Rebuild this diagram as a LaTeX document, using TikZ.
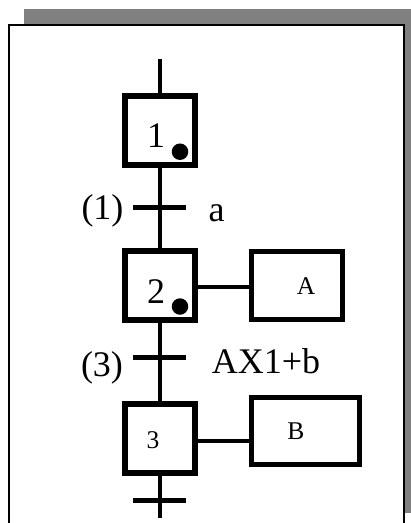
\documentclass[tikz,border=0pt]{standalone}
\usepackage{fontspec}
\setmainfont{Liberation Serif}
\definecolor{shadowgray}{RGB}{128,128,128}
\begin{document}
\begin{tikzpicture}[x=1pt,y=-1pt,
  stepbox/.style={draw,line width=6pt,minimum width=70pt,minimum height=69pt,inner sep=0pt},
  actbox/.style={draw,line width=5pt,inner sep=0pt},
  link/.style={line width=4.5pt},
  bar/.style={line width=5pt},
  big/.style={font=\fontsize{36}{40}\selectfont,inner sep=0pt,anchor=base},
  small/.style={font=\fontsize{25.5}{30}\selectfont,inner sep=0pt,anchor=base},
  token/.style={circle,fill=black,minimum size=16.5pt,inner sep=0pt}]
\useasboundingbox (0,0) rectangle (411,523);
\clip (0,0) rectangle (411,523);
\fill[shadowgray] (24,9) rectangle (430,513);
\filldraw[fill=white,line width=2pt] (8.5,24.5) rectangle (403.5,560);
% steps
\node[stepbox] (s1) at (160,130) {};
\node[stepbox] (s2) at (160,285) {};
\node[stepbox] (s3) at (160,438.5) {};
\node[big] (n1) at (156,147) {1};
\node[token] (d1) at (180,151.7) {};
\node[big] (n2) at (156,303) {2};
\node[token] (d2) at (180,306.5) {};
\node[small] (n3) at (153,448) {3};
% actions
\node[actbox,minimum width=91pt,minimum height=68pt] (aA) at (296.5,285) {};
\node[small] (tA) at (306,294) {A};
\node[actbox,minimum width=108pt,minimum height=67pt] (aB) at (305,430.5) {};
\node[small] (tB) at (296,439) {B};
\coordinate (c2) at ([yshift=-2pt]s2.east);
\draw[link,line width=4pt] (c2) -- (c2 -| aA.west);
\coordinate (c3) at ([yshift=-2.5pt]s3.east);
\draw[link,line width=4pt] (c3) -- (c3 -| aB.west);
% links
\coordinate (top) at (160,59);
\draw[link] (top) -- (s1.north);
\draw[link] (s1.south) -- (s2.north);
\draw[link] (s2.south) -- (s3.north);
\coordinate (bot) at (160,518);
\draw[link] (s3.south) -- (bot);
% transitions
\coordinate (t1) at (160,207.5);
\draw[bar] ([xshift=-27pt]t1) -- ([xshift=26pt]t1);
\coordinate (t3) at (160,357);
\draw[bar] ([xshift=-27pt]t3) -- ([xshift=26pt]t3);
\coordinate (t5) at (160,500.5);
\draw[bar] ([xshift=-27pt]t5) -- ([xshift=26pt]t5);
% labels
\node[big] (l1) at (102.5,219) {(1)};
\node[big] (r1) at (216.7,221) {a};
\node[big] (l3) at (102,376) {(3)};
\node[big] (r3) at (266,373) {AX1+b};
\end{tikzpicture}
\end{document}
